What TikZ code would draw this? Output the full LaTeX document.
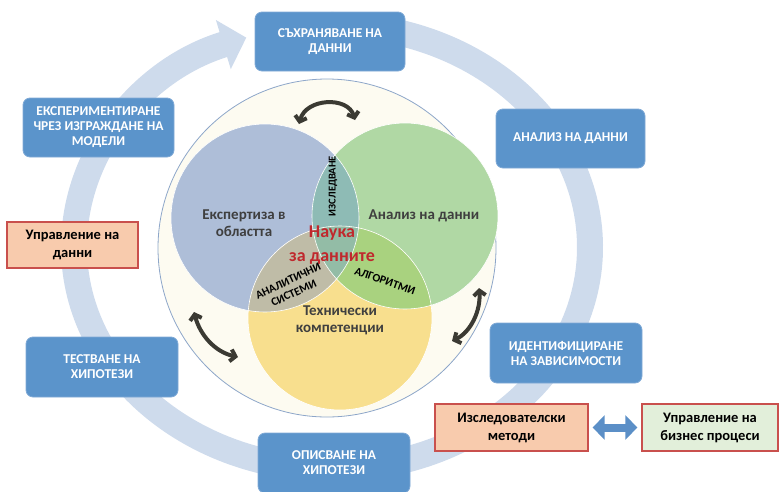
\documentclass[tikz,border=0pt]{standalone}
\usepackage{fontspec}
\setmainfont{Carlito}
\usetikzlibrary{arrows.meta}
\definecolor{ringc}{HTML}{CEDBEC}
\definecolor{boxblue}{HTML}{5B94CB}
\definecolor{boxedge}{HTML}{80AAD6}
\definecolor{redline}{HTML}{C9504D}
\definecolor{orangefill}{HTML}{F8CBAD}
\definecolor{greenfill}{HTML}{E2EFDA}
\definecolor{innerfill}{HTML}{FDFBF1}
\definecolor{innerline}{HTML}{8DA6C9}
\definecolor{cB}{HTML}{AEBED8}
\definecolor{cG}{HTML}{B0D8A4}
\definecolor{cY}{HTML}{F8DF8E}
\definecolor{cBG}{HTML}{8EBBB5}
\definecolor{cBY}{HTML}{BFBCA7}
\definecolor{cGY}{HTML}{A9D27F}
\definecolor{cBGY}{HTML}{93BCA6}
\definecolor{txtgray}{HTML}{3F3F3F}
\definecolor{redtxt}{HTML}{C0282D}
\definecolor{arrowdark}{HTML}{3B3A33}
\definecolor{darrow}{HTML}{5B8FC7}
\begin{document}
\begin{tikzpicture}[x=1pt,y=-1pt,
  bluebox/.style={draw=boxedge, fill=boxblue, rounded corners=7pt, text=white,
    font=\bfseries\fontsize{13.5}{15}\selectfont, align=center, line width=0.8pt, inner sep=2pt},
  redbox/.style={draw=redline, line width=1.3pt, font=\bfseries\fontsize{14.5}{18}\selectfont,
    align=center, text=black, inner sep=2pt},
  venntxt/.style={font=\bfseries\fontsize{15}{17}\selectfont, text=txtgray, align=center},
  smalltxt/.style={font=\bfseries\fontsize{11.5}{13.5}\selectfont, text=black, align=center, inner sep=0pt},
  curvy/.style={draw=arrowdark, line width=4pt, line cap=round,
    {Straight Barb[length=5pt,width=12pt]}-{Straight Barb[length=5pt,width=12pt]}}
]
\useasboundingbox (0,0) rectangle (780,491);

% ring arrow
\coordinate (rc) at (332,247);
\path (rc) ++(265:258 and 222) coordinate (rs);
\draw[ringc, line width=26pt, -{Triangle[length=24pt,width=50pt]}]
  (rs) arc[start angle=265, end angle=610.6, x radius=258, y radius=222];

% inner circle
\coordinate (ic) at (327,248);
\draw[innerline, fill=innerfill, line width=0.8pt] (ic) circle[radius=169pt];

% venn
\coordinate (B) at (265,218);
\coordinate (G) at (405,216);
\coordinate (Y) at (340,318);
\fill[cB] (B) circle[radius=94pt];
\fill[cG] (G) circle[radius=93pt];
\fill[cY] (Y) circle[radius=92pt];
\begin{scope}
  \clip (B) circle[radius=94pt];
  \fill[cBG] (G) circle[radius=93pt];
  \fill[cBY] (Y) circle[radius=92pt];
\end{scope}
\begin{scope}
  \clip (G) circle[radius=93pt];
  \fill[cGY] (Y) circle[radius=92pt];
\end{scope}
\begin{scope}
  \clip (B) circle[radius=94pt];
  \clip (G) circle[radius=93pt];
  \fill[cBGY] (Y) circle[radius=92pt];
\end{scope}
\draw[white, line width=0.6pt] (B) circle[radius=94pt] (G) circle[radius=93pt] (Y) circle[radius=92pt];

% venn texts
\node[venntxt] (expert) at (244,223) {Експертиза в\\областта};
\node[venntxt] (anal) at (424,216) {Анализ на данни};
\node[venntxt] (tech) at (340,320) {Технически\\компетенции};
\node[font=\bfseries\fontsize{18}{24}\selectfont, text=redtxt, align=center] (sci) at (332,245) {Наука\\за данните};
\node[smalltxt, font=\bfseries\fontsize{10.5}{12}\selectfont, rotate=90] (res) at (333,186) {ИЗСЛЕДВАНЕ};
\node[smalltxt, rotate=-19] (alg) at (385,281) {АЛГОРИТМИ};
\node[smalltxt, rotate=25] (ansys) at (291,287) {АНАЛИТИЧНИ\\СИСТЕМИ};

% curved double arrows
\coordinate (a1) at (299,124); \coordinate (a2) at (355,120);
\draw[curvy] (a1) .. controls (306,98) and (348,96) .. (a2);
\coordinate (b1) at (194,312); \coordinate (b2) at (238,357);
\draw[curvy] (b1) .. controls (200,335) and (215,352) .. (b2);
\coordinate (c1) at (479,288); \coordinate (c2) at (452,341);
\draw[curvy] (c1) .. controls (481,310) and (471,332) .. (c2);

% blue boxes
\node[bluebox, minimum width=150pt, minimum height=59pt] (store) at (330,41.5) {СЪХРАНЯВАНЕ НА\\ДАННИ};
\node[bluebox, minimum width=149pt, minimum height=59pt] (analysis) at (570.5,138.5) {АНАЛИЗ НА ДАННИ};
\node[bluebox, minimum width=152pt, minimum height=60pt] (ident) at (566,353) {ИДЕНТИФИЦИРАНЕ\\НА ЗАВИСИМОСТИ};
\node[bluebox, minimum width=152pt, minimum height=60pt] (describe) at (334,463) {ОПИСВАНЕ НА\\ХИПОТЕЗИ};
\node[bluebox, minimum width=152pt, minimum height=60pt] (test) at (102,367) {ТЕСТВАНЕ НА\\ХИПОТЕЗИ};
\node[bluebox, minimum width=151pt, minimum height=59pt] (exper) at (98.5,127.5) {ЕКСПЕРИМЕНТИРАНЕ\\ЧРЕЗ ИЗГРАЖДАНЕ НА\\МОДЕЛИ};

% red boxes
\node[redbox, fill=orangefill, minimum width=131pt, minimum height=46pt] (dm) at (72.5,245) {Управление на\\данни};
\node[redbox, fill=orangefill, minimum width=153pt, minimum height=47pt] (rm) at (511.5,427.5) {Изследователски\\методи};
\node[redbox, fill=greenfill, minimum width=136pt, minimum height=47pt] (bp) at (710,427.5) {Управление на\\бизнес процеси};

\draw[darrow, line width=8pt, shorten <=4pt, shorten >=4pt,
  {Triangle[length=12pt,width=24pt]}-{Triangle[length=12pt,width=24pt]}] (rm.east) -- (bp.west);
\end{tikzpicture}
\end{document}
